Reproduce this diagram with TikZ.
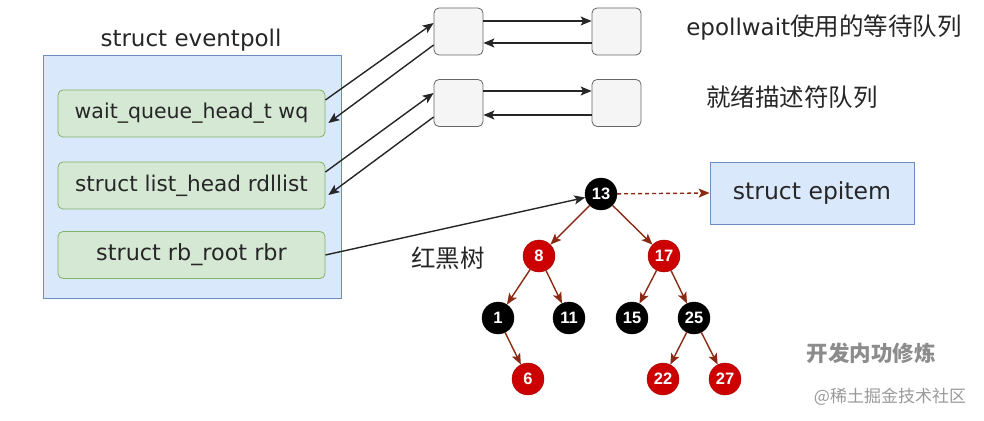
\documentclass[tikz,border=0pt]{standalone}
\usepackage{fontspec}
\setmainfont{DejaVu Sans}
\newfontfamily\cjk{Noto Sans CJK SC}
\newfontfamily\numfont{Liberation Sans}
\usetikzlibrary{arrows.meta,calc}
\definecolor{bluefill}{HTML}{DAE8FC}
\definecolor{blueline}{HTML}{6C8EBF}
\definecolor{greenfill}{HTML}{D5E8D4}
\definecolor{greenline}{HTML}{82B366}
\definecolor{qfill}{HTML}{F5F5F5}
\definecolor{qline}{HTML}{666666}
\definecolor{treebrown}{HTML}{8B2A14}
\definecolor{rbred}{HTML}{CC0000}
\begin{document}
\begin{tikzpicture}[x=1pt,y=-1pt,
  fs/.style={font=\fontsize{#1}{#1}\selectfont},
  bluebox/.style={draw=blueline, fill=bluefill, line width=0.8pt, inner sep=0pt},
  fieldbox/.style={draw=greenline, fill=greenfill, line width=0.8pt, rounded corners=5pt,
    minimum width=267pt, minimum height=47pt, inner sep=0pt, text=black!85},
  qbox/.style={draw=qline, fill=qfill, line width=0.8pt, rounded corners=5pt,
    minimum width=49pt, minimum height=47pt, inner sep=0pt},
  rbnode/.style={circle, minimum size=32pt, inner sep=0pt, text=white,
    font=\numfont\bfseries\fontsize{16.5}{16.5}\selectfont},
  blacknode/.style={rbnode, fill=black, draw=black},
  rednode/.style={rbnode, fill=rbred, draw=rbred!80!black},
  conn/.style={draw=black!85, line width=1.4pt, -{Stealth[length=11pt,width=9pt,inset=2.5pt]}},
  treeedge/.style={draw=treebrown, line width=1.4pt, -{Stealth[length=11pt,width=9pt,inset=2.5pt]}},
  cjklabel/.style={font=\cjk\fontsize{24.5}{28}\selectfont, text=black!85},
]
\useasboundingbox (0,0) rectangle (984,420);

% eventpoll
\node[fs=23, text=black!85] (title) at (191,40) {struct eventpoll};
\node[bluebox, minimum width=298pt, minimum height=243pt] (ep) at (192,176.5) {};
\node[fieldbox, fs=20.5] (wq) at (191.5,113.5) {wait\_queue\_head\_t wq};
\node[fieldbox, fs=21.6] (rd) at (191.5,185.5) {struct list\_head rdllist};
\node[fieldbox, fs=22.3] (rb) at (191.5,255) {struct rb\_root rbr};

% queues
\node[qbox] (q1) at (458.5,31.5) {};
\node[qbox] (q2) at (616.5,31.5) {};
\node[qbox] (q3) at (458.5,103) {};
\node[qbox] (q4) at (616.5,103) {};

\draw[conn] ([yshift=10.5pt]q1.east) -- ([yshift=10.5pt]q2.west);
\draw[conn] ([yshift=-11.5pt]q2.west) -- ([yshift=-11.5pt]q1.east);
\draw[conn] ([yshift=12pt]q3.east) -- ([yshift=12pt]q4.west);
\draw[conn] ([yshift=-12pt]q4.west) -- ([yshift=-12pt]q3.east);

\draw[conn] ([yshift=13.5pt]wq.east) -- ([yshift=8.5pt]q1.west);
\draw[conn] ([yshift=-13.5pt]q1.west) -- ([xshift=3pt,yshift=-9.5pt]wq.east);
\draw[conn] ([yshift=13.5pt]rd.east) -- ([yshift=10pt]q3.west);
\draw[conn] ([yshift=-14pt]q3.west) -- ([xshift=3pt,yshift=-9.5pt]rd.east);

% labels
\node[fs=23, text=black!85, inner sep=0pt] (lbl1) at (824,28)
  {epollwait\cjk\fontsize{24.5}{28}\selectfont 使用的等待队列};
\node[cjklabel, inner sep=0pt] (lbl2) at (792,97) {就绪描述符队列};
\node[cjklabel, inner sep=0pt] (lbl3) at (448,258) {红黑树};

% epitem
\node[bluebox, minimum width=204pt, minimum height=62pt, fs=23.5, text=black!85] (epi) at (812,193) {struct epitem};

% tree
\node[blacknode] (n13) at (601,194) {13};
\node[rednode]   (n8)  at (539,256) {8};
\node[rednode]   (n17) at (664,256) {17};
\node[blacknode] (n1)  at (498,318) {1};
\node[blacknode] (n11) at (569,318) {11};
\node[blacknode] (n15) at (632,318) {15};
\node[blacknode] (n25) at (694,318) {25};
\node[rednode]   (n6)  at (528,379) {6};
\node[rednode]   (n22) at (663,379) {22};
\node[rednode]   (n27) at (725,379) {27};

\draw[treeedge] (n13) -- (n8);
\draw[treeedge] (n13) -- (n17);
\draw[treeedge] (n8) -- (n1);
\draw[treeedge] (n8) -- (n11);
\draw[treeedge] (n17) -- (n15);
\draw[treeedge] (n17) -- (n25);
\draw[treeedge] (n1) -- (n6);
\draw[treeedge] (n25) -- (n22);
\draw[treeedge] (n25) -- (n27);

\draw[treeedge, dash pattern=on 4pt off 3pt] (n13) -- (epi.west);
\draw[conn] (rb.east) -- (n13);

% watermark
\node[font=\cjk\bfseries\fontsize{21.5}{24}\selectfont, text=black!45, inner sep=0pt] (wm1) at (871,353) {开发内功修炼};
\node[font=\cjk\fontsize{17}{20}\selectfont, text=black!40, inner sep=0pt] (wm2) at (890,397) {@稀土掘金技术社区};
\end{tikzpicture}
\end{document}
